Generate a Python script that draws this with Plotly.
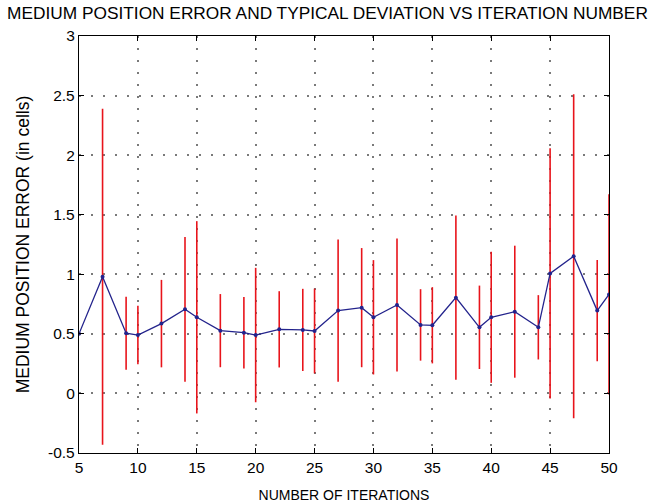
import plotly.graph_objects as go

iterations = [5, 7, 9, 10, 12, 14, 15, 17, 19, 20, 22, 24, 25, 27, 29, 30, 32,
              34, 35, 37, 39, 40, 42, 44, 45, 47, 49, 50]
mean_error = [0.50, 0.98, 0.505, 0.49, 0.586, 0.706, 0.639, 0.527, 0.51, 0.49,
              0.538, 0.533, 0.524, 0.695, 0.72, 0.639, 0.742, 0.575, 0.572,
              0.804, 0.555, 0.639, 0.686, 0.555, 1.007, 1.152, 0.695, 0.831]
std_dev = [0.0, 1.41, 0.307, 0.245, 0.367, 0.607, 0.807, 0.307, 0.30, 0.564,
           0.32, 0.345, 0.356, 0.596, 0.50, 0.48, 0.558, 0.30, 0.32,
           0.69, 0.35, 0.55, 0.554, 0.27, 1.05, 1.36, 0.425, 0.84]

x_ticks = [5, 10, 15, 20, 25, 30, 35, 40, 45, 50]
y_ticks = [-0.5, 0, 0.5, 1, 1.5, 2, 2.5, 3]
y_tick_labels = ["-0.5", "0", "0.5", "1", "1.5", "2", "2.5", "3"]

font_family = "Liberation Sans, Arial, Helvetica, sans-serif"

fig = go.Figure()
fig.add_trace(go.Scatter(
    x=iterations, y=mean_error,
    mode="lines+markers",
    line=dict(color="#23238c", width=1.3),
    marker=dict(color="#23238c", size=4),
    error_y=dict(type="data", array=std_dev, symmetric=True,
                 color="#e8141b", thickness=1.6, width=0),
    cliponaxis=True,
    showlegend=False,
))

axis_common = dict(
    showline=True, linecolor="black", linewidth=1.3, mirror="ticks",
    ticks="inside", ticklen=5, tickcolor="black",
    showgrid=True, gridcolor="#7a7a7a", griddash="1.5px,10.5px", gridwidth=1.5,
    zeroline=False, automargin=False,
    tickfont=dict(family=font_family, size=15.5, color="black"),
)

fig.update_layout(
    width=655, height=504,
    paper_bgcolor="white", plot_bgcolor="white",
    margin=dict(l=79, r=46, t=36, b=51),
    font=dict(family=font_family, size=14, color="black"),
    title=dict(text="MEDIUM POSITION ERROR AND TYPICAL DEVIATION VS ITERATION NUMBER",
               x=0.5, xanchor="center", y=0.975, yanchor="middle",
               font=dict(family=font_family, size=17.3, color="black")),
    xaxis=dict(range=[5, 50], tickvals=x_ticks,
               title=dict(text="NUMBER OF ITERATIONS", standoff=15,
                          font=dict(family=font_family, size=14)),
               **axis_common),
    yaxis=dict(range=[-0.5, 3], tickvals=y_ticks, ticktext=y_tick_labels,
               title=dict(text="MEDIUM POSITION ERROR (in cells)", standoff=13,
                          font=dict(family=font_family, size=17.5)),
               **axis_common),
)

fig.write_html("out.html")
